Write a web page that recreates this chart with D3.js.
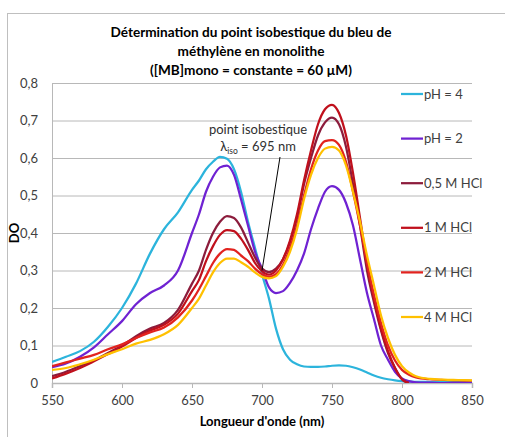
<!DOCTYPE html>
<html>
<head>
<meta charset="utf-8">
<script src="https://cdn.jsdelivr.net/npm/d3@7"></script>
<style>
  body { margin: 0; background: #fff; }
  svg { display: block; font-family: Lato, "Open Sans", sans-serif; }
</style>
</head>
<body>
<div id="chart"></div>
<script>
// wavelengths (nm)
const wavelengths = [550,560,570,580,590,600,610,620,630,640,650,655,660,665,670,675,680,685,690,695,700,705,710,715,720,725,730,735,740,745,750,755,760,765,770,775,780,785,790,795,800,805,810,820,830,840,850];

const seriesNames = ["pH = 4", "pH = 2", "0,5 M HCl", "1 M HCl", "2 M HCl", "4 M HCl"];
const seriesColors = ["#2cb4dc", "#6f22d2", "#8c1c3c", "#c0101c", "#e2231f", "#ffc000"];

const ph4 = [0.056,0.07,0.085,0.11,0.15,0.20,0.265,0.345,0.41,0.455,0.515,0.54,0.57,0.59,0.603,0.598,0.57,0.51,0.43,0.36,0.29,0.225,0.145,0.09,0.062,0.05,0.044,0.043,0.043,0.044,0.046,0.047,0.046,0.042,0.036,0.028,0.02,0.014,0.01,0.007,0.005,0.004,0.003,0.003,0.003,0.003,0.003];
const ph2 = [0.042,0.052,0.07,0.095,0.13,0.165,0.21,0.24,0.26,0.3,0.4,0.45,0.51,0.55,0.575,0.58,0.555,0.49,0.42,0.35,0.305,0.255,0.24,0.245,0.267,0.3,0.345,0.41,0.465,0.51,0.525,0.515,0.48,0.42,0.33,0.24,0.17,0.1,0.062,0.03,0.012,0.005,0.002,0.001,0,0,0];
const hcl05 = [0.018,0.03,0.045,0.06,0.08,0.1,0.125,0.145,0.16,0.195,0.265,0.3,0.355,0.4,0.43,0.445,0.44,0.415,0.375,0.335,0.305,0.296,0.305,0.33,0.375,0.44,0.53,0.6,0.66,0.695,0.708,0.69,0.63,0.53,0.42,0.3,0.215,0.14,0.08,0.04,0.01,0,null,null,null,null,null];
const hcl1 = [0.012,0.025,0.04,0.058,0.077,0.097,0.12,0.14,0.155,0.185,0.245,0.275,0.325,0.365,0.395,0.408,0.405,0.385,0.355,0.32,0.298,0.289,0.3,0.33,0.38,0.45,0.54,0.62,0.69,0.73,0.742,0.72,0.66,0.56,0.44,0.32,0.225,0.145,0.085,0.04,0.01,0,null,null,null,null,null];
const hcl2 = [0.045,0.055,0.065,0.075,0.09,0.103,0.12,0.135,0.148,0.175,0.22,0.25,0.285,0.32,0.345,0.357,0.355,0.34,0.325,0.305,0.29,0.283,0.29,0.315,0.36,0.42,0.5,0.57,0.62,0.645,0.648,0.635,0.59,0.51,0.42,0.32,0.235,0.16,0.1,0.06,0.035,0.022,0.015,0.01,0.008,0.007,0.006];
const hcl4 = [0.035,0.04,0.05,0.062,0.077,0.09,0.105,0.115,0.13,0.155,0.2,0.225,0.26,0.295,0.32,0.332,0.332,0.322,0.31,0.295,0.283,0.279,0.285,0.31,0.35,0.41,0.49,0.555,0.6,0.625,0.63,0.62,0.58,0.51,0.43,0.34,0.26,0.18,0.12,0.075,0.045,0.028,0.018,0.011,0.009,0.008,0.007];

const xTicks = [550,600,650,700,750,800,850];
const yTicks = [0,0.1,0.2,0.3,0.4,0.5,0.6,0.7,0.8];

const allSeries = [ph4, ph2, hcl05, hcl1, hcl2, hcl4];

const W = 505, H = 437;
const svg = d3.select("#chart").append("svg")
    .attr("width", W)
    .attr("height", H);

// chart border
svg.append("rect")
    .attr("x", 7.5).attr("y", 13.5)
    .attr("width", 520).attr("height", 440)
    .attr("fill", "none")
    .attr("stroke", "#bfbfbf");

const x = d3.scaleLinear().domain([550, 850]).range([52, 472]);
const y = d3.scaleLinear().domain([0, 0.8]).range([383, 83]);

// gridlines
svg.append("g")
    .attr("transform", "translate(52,0)")
    .call(d3.axisLeft(y).tickValues(yTicks.slice(1)).tickSize(-420).tickFormat(""))
    .call(g => g.select(".domain").remove())
    .call(g => g.selectAll("line").attr("stroke", "#b8b8b8"));

// y axis
svg.append("g")
    .attr("transform", "translate(52,0)")
    .call(d3.axisLeft(y).tickValues(yTicks).tickSize(0).tickPadding(14)
        .tickFormat(d => d === 0 ? "0" : d3.format(".1f")(d).replace(".", ",")))
    .call(g => g.select(".domain").attr("stroke", "#b8b8b8"))
    .call(g => g.selectAll("text").attr("font-size", "13px").attr("fill", "#404040").attr("font-family", "Lato, sans-serif"));

// x axis
svg.append("g")
    .attr("transform", "translate(0,383)")
    .call(d3.axisBottom(x).tickValues(xTicks).tickSize(5).tickPadding(8).tickFormat(d3.format("d")))
    .call(g => g.select(".domain").attr("stroke", "#b8b8b8").attr("stroke-width", 1.5))
    .call(g => g.selectAll("line").attr("stroke", "#b8b8b8"))
    .call(g => g.selectAll("text").attr("font-size", "13px").attr("fill", "#404040").attr("font-family", "Lato, sans-serif"));

// lines
svg.append("clipPath").attr("id", "plot")
    .append("rect").attr("x", 52).attr("y", 60).attr("width", 430).attr("height", 323);

const line = d3.line()
    .defined(d => d[1] !== null)
    .x(d => x(d[0]))
    .y(d => y(d[1]))
    .curve(d3.curveMonotoneX);

allSeries.forEach((vals, i) => {
    svg.append("path")
        .datum(wavelengths.map((w, j) => [w, vals[j]]))
        .attr("clip-path", "url(#plot)")
        .attr("fill", "none")
        .attr("stroke", seriesColors[i])
        .attr("stroke-width", 2.25)
        .attr("d", line);
});

// title
const title = ["Détermination du point isobestique du bleu de",
               "méthylène en monolithe",
               "([MB]mono = constante = 60 µM)"];
svg.append("text")
    .attr("x", 251).attr("y", 37)
    .attr("text-anchor", "middle")
    .style("font-size", "13.6px")
    .style("font-weight", "bold")
    .attr("fill", "#000")
    .selectAll("tspan")
    .data(title)
    .enter().append("tspan")
    .attr("x", 251)
    .attr("dy", (d, i) => i === 0 ? 0 : 19)
    .text(d => d);

// axis titles
svg.append("text")
    .attr("x", 262).attr("y", 426)
    .attr("text-anchor", "middle")
    .style("font-size", "13px")
    .style("font-weight", "bold")
    .text("Longueur d'onde (nm)");

svg.append("text")
    .attr("transform", "translate(19,233) rotate(-90)")
    .attr("text-anchor", "middle")
    .style("font-size", "13px")
    .style("font-weight", "bold")
    .text("DO");

// isobestic point annotation
svg.append("line")
    .attr("x1", 280).attr("y1", 157)
    .attr("x2", x(700)).attr("y2", y(0.3))
    .attr("stroke", "#000").attr("stroke-width", 1);

svg.append("text")
    .attr("x", 258).attr("y", 134)
    .attr("text-anchor", "middle")
    .style("font-size", "13px")
    .attr("fill", "#303030")
    .text("point isobestique");

const iso = svg.append("text")
    .attr("x", 258).attr("y", 151)
    .attr("text-anchor", "middle")
    .style("font-size", "13px")
    .attr("fill", "#303030");
iso.append("tspan").text("λ");
iso.append("tspan").attr("dy", 3).style("font-size", "8.5px").text("iso");
iso.append("tspan").attr("dy", -3).text(" = 695 nm");

// legend
const legend = svg.append("g");
const items = legend.selectAll(".legend-item")
    .data(seriesNames)
    .enter().append("g")
    .attr("class", "legend-item")
    .attr("transform", (d, i) => `translate(401, ${94 + i * 44.6})`);

items.append("line")
    .attr("x1", 0).attr("x2", 22)
    .attr("stroke", (d, i) => seriesColors[i])
    .attr("stroke-width", 2.25);

items.append("text")
    .attr("x", 23).attr("y", 4.5)
    .style("font-size", "13px")
    .attr("fill", "#404040")
    .text(d => d);
</script>
</body>
</html>
